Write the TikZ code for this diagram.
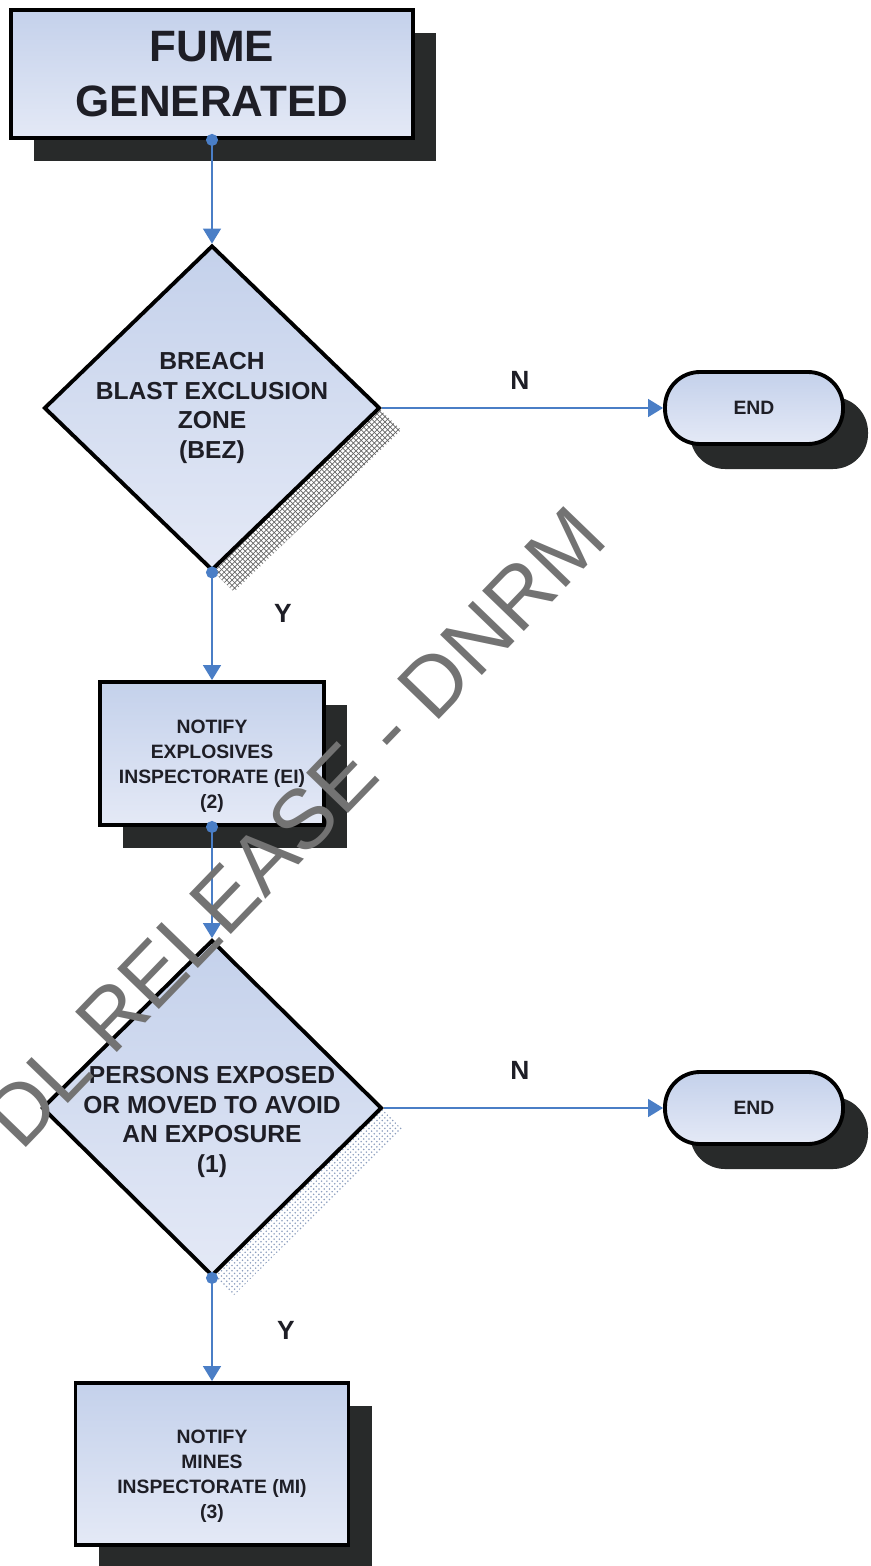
\documentclass[tikz,border=0pt]{standalone}
\usepackage{fontspec}
\setmainfont{Liberation Sans}
\usepackage{tikz}
\usetikzlibrary{arrows.meta,shapes.geometric,shadows,patterns}

\definecolor{boxtop}{RGB}{196,209,235}
\definecolor{boxbot}{RGB}{228,233,246}
\definecolor{shadowgray}{RGB}{40,42,42}
\definecolor{flowblue}{RGB}{74,126,198}
\definecolor{dotshade}{RGB}{140,158,190}
\definecolor{inktext}{RGB}{30,30,38}

\begin{document}
\begin{tikzpicture}[inner sep=0pt, line join=miter]
    \tikzstyle{start}=[rectangle, draw=black, line width=2.2pt, top color=boxtop, bottom color=boxbot, text=inktext, align=center, font=\bfseries\fontsize{25}{31}\selectfont, drop shadow={shadow xshift=0.46cm, shadow yshift=-0.46cm, fill=shadowgray, opacity=1}]
    \tikzstyle{proc}=[rectangle, draw=black, line width=2.2pt, top color=boxtop, bottom color=boxbot, drop shadow={shadow xshift=0.46cm, shadow yshift=-0.46cm, fill=shadowgray, opacity=1}]
    \tikzstyle{ptext}=[text=inktext, align=center, font=\bfseries\fontsize{11}{14.2}\selectfont, yshift=-0.25cm]
    \tikzstyle{decide}=[diamond, draw=black, line width=2.2pt, top color=boxtop, bottom color=boxbot]
    \tikzstyle{dtext}=[text=inktext, align=center, font=\bfseries\fontsize{14}{17}\selectfont]
    \tikzstyle{term}=[rectangle, rounded corners=0.7cm, draw=black, line width=2.2pt, top color=boxtop, bottom color=boxbot, minimum width=3.56cm, minimum height=1.44cm, text=inktext, font=\bfseries\fontsize{11}{13}\selectfont, drop shadow={shadow xshift=0.5cm, shadow yshift=-0.5cm, fill=shadowgray, opacity=1}]
    \tikzstyle{lab}=[text=inktext, font=\bfseries\fontsize{15}{18}\selectfont]
    \tikzstyle{yes}=[{Circle[length=0.24cm]}-{Triangle[width=0.36cm,length=0.3cm]}, draw=flowblue, line width=0.8pt, shorten <=-0.12cm]
    \tikzstyle{no}=[-{Triangle[width=0.36cm,length=0.3cm]}, draw=flowblue, line width=0.8pt]

    \useasboundingbox (0,0) rectangle (17.42,-31.32);

    \node[start, minimum width=8.04cm, minimum height=2.56cm] (fume) at (4.24,-1.48) {FUME\\GENERATED};
    \node[decide, minimum width=6.72cm, minimum height=6.5cm,
          drop shadow={shadow xshift=0.44cm, shadow yshift=-0.44cm, opacity=1, pattern=crosshatch, pattern color=black!60},
          label={[dtext]center:{BREACH\\BLAST EXCLUSION\\ZONE\\(BEZ)}}] (bez) [below of=fume, node distance=6.68cm] {};
    \node[proc, minimum width=4.48cm, minimum height=2.86cm,
          label={[ptext]center:{NOTIFY\\EXPLOSIVES\\INSPECTORATE (EI)\\(2)}}] (ei) [below of=bez, node distance=6.91cm] {};
    \node[decide, minimum width=6.8cm, minimum height=6.72cm,
          drop shadow={shadow xshift=0.42cm, shadow yshift=-0.42cm, opacity=1, pattern=crosshatch dots, pattern color=dotshade},
          label={[dtext, yshift=-0.28cm]center:{PERSONS EXPOSED\\OR MOVED TO AVOID\\AN EXPOSURE\\(1)}}] (exp) [below of=ei, node distance=7.09cm] {};
    \node[proc, minimum width=5.46cm, minimum height=3.24cm,
          label={[ptext]center:{NOTIFY\\MINES\\INSPECTORATE (MI)\\(3)}}] (mi) [below of=exp, node distance=7.12cm] {};
    \node[term] (end1) [right of=bez, node distance=10.84cm] {END};
    \node[term] (end2) [right of=exp, node distance=10.84cm] {END};

    \draw[yes] (fume.south) to (bez.north);
    \draw[no] (bez.east) to (end1.west);
    \draw[yes] (bez.south) to (ei.north);
    \draw[yes] (ei.south) to (exp.north);
    \draw[no] (exp.east) to (end2.west);
    \draw[yes] (exp.south) to (mi.north);

    \node[lab] (n1) at (10.4,-7.6) {N};
    \node[lab] (y1) at (5.66,-12.26) {Y};
    \node[lab] (n2) at (10.4,-21.4) {N};
    \node[lab] (y2) at (5.72,-26.6) {Y};

    \node[rotate=46, text=black!55, font=\fontsize{48}{48}\selectfont] (stamp) at (5.9,-16.54) {DL RELEASE - DNRM};
\end{tikzpicture}
\end{document}
